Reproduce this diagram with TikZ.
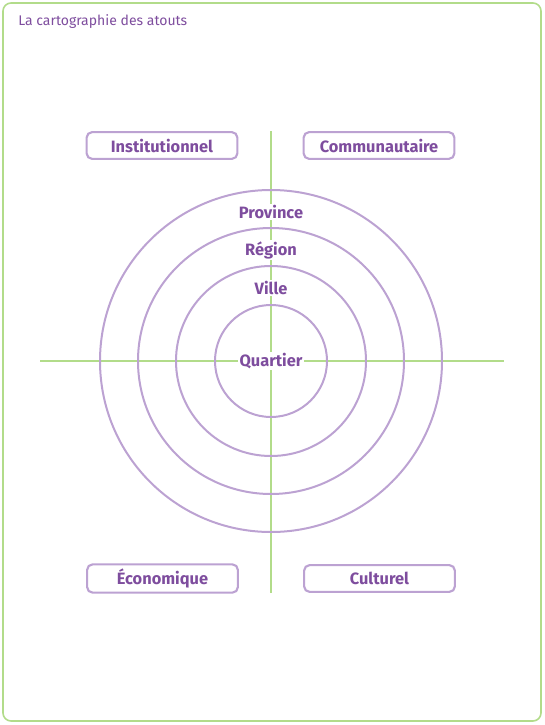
\documentclass[tikz,border=0pt]{standalone}
\usepackage{fontspec}
\setmainfont{Fira Sans}
\definecolor{frameGreen}{HTML}{B2DC8A}
\definecolor{axisGreen}{HTML}{B2DC8A}
\definecolor{ringPurple}{HTML}{BCA2D2}
\definecolor{textPurple}{HTML}{7E4D9E}
\begin{document}
\begin{tikzpicture}[x=0.75pt,y=-0.75pt,
  ring/.style={draw=ringPurple,line width=1.5pt},
  axis/.style={draw=axisGreen,line width=1.5pt},
  ringlabel/.style={fill=white,inner sep=1pt,text=textPurple,font=\fontsize{12.3}{14}\selectfont\bfseries},
  quadbox/.style={draw=ringPurple,line width=1.6pt,rounded corners=4pt,minimum width=113pt,minimum height=20pt,text=textPurple,font=\fontsize{12.3}{14}\selectfont\bfseries,fill=white}]
\useasboundingbox (0,0) rectangle (545,725);
% outer frame
\draw[draw=frameGreen,line width=1.2pt,rounded corners=6pt] (3,3) rectangle (541,721);
\node[anchor=west,text=textPurple,font=\fontsize{10.5}{12}\selectfont,inner sep=0pt] (title) at (18,22) {La cartographie des atouts};
% axes
\coordinate (c) at (271,361);
\coordinate (top) at (271,131);
\coordinate (bot) at (271,593);
\coordinate (lft) at (40,361);
\coordinate (rgt) at (504,361);
\draw[axis] (top) -- (bot);
\draw[axis] (lft) -- (rgt);
% concentric rings
\foreach \r in {56,95,133,171} \draw[ring] (c) circle (\r);
% ring labels
\node[ringlabel] (province) at (271,212) {Province};
\node[ringlabel] (region) at (271,250) {Région};
\node[ringlabel] (ville) at (271,288) {Ville};
\node[ringlabel] (quartier) at (271,361) {Quartier};
% quadrant boxes
\node[quadbox] (inst) at (162,145.5) {Institutionnel};
\node[quadbox] (comm) at (379,145.5) {Communautaire};
\node[quadbox] (eco) at (162.5,578.5) {Économique};
\node[quadbox] (cult) at (379.5,578.5) {Culturel};
\end{tikzpicture}
\end{document}
